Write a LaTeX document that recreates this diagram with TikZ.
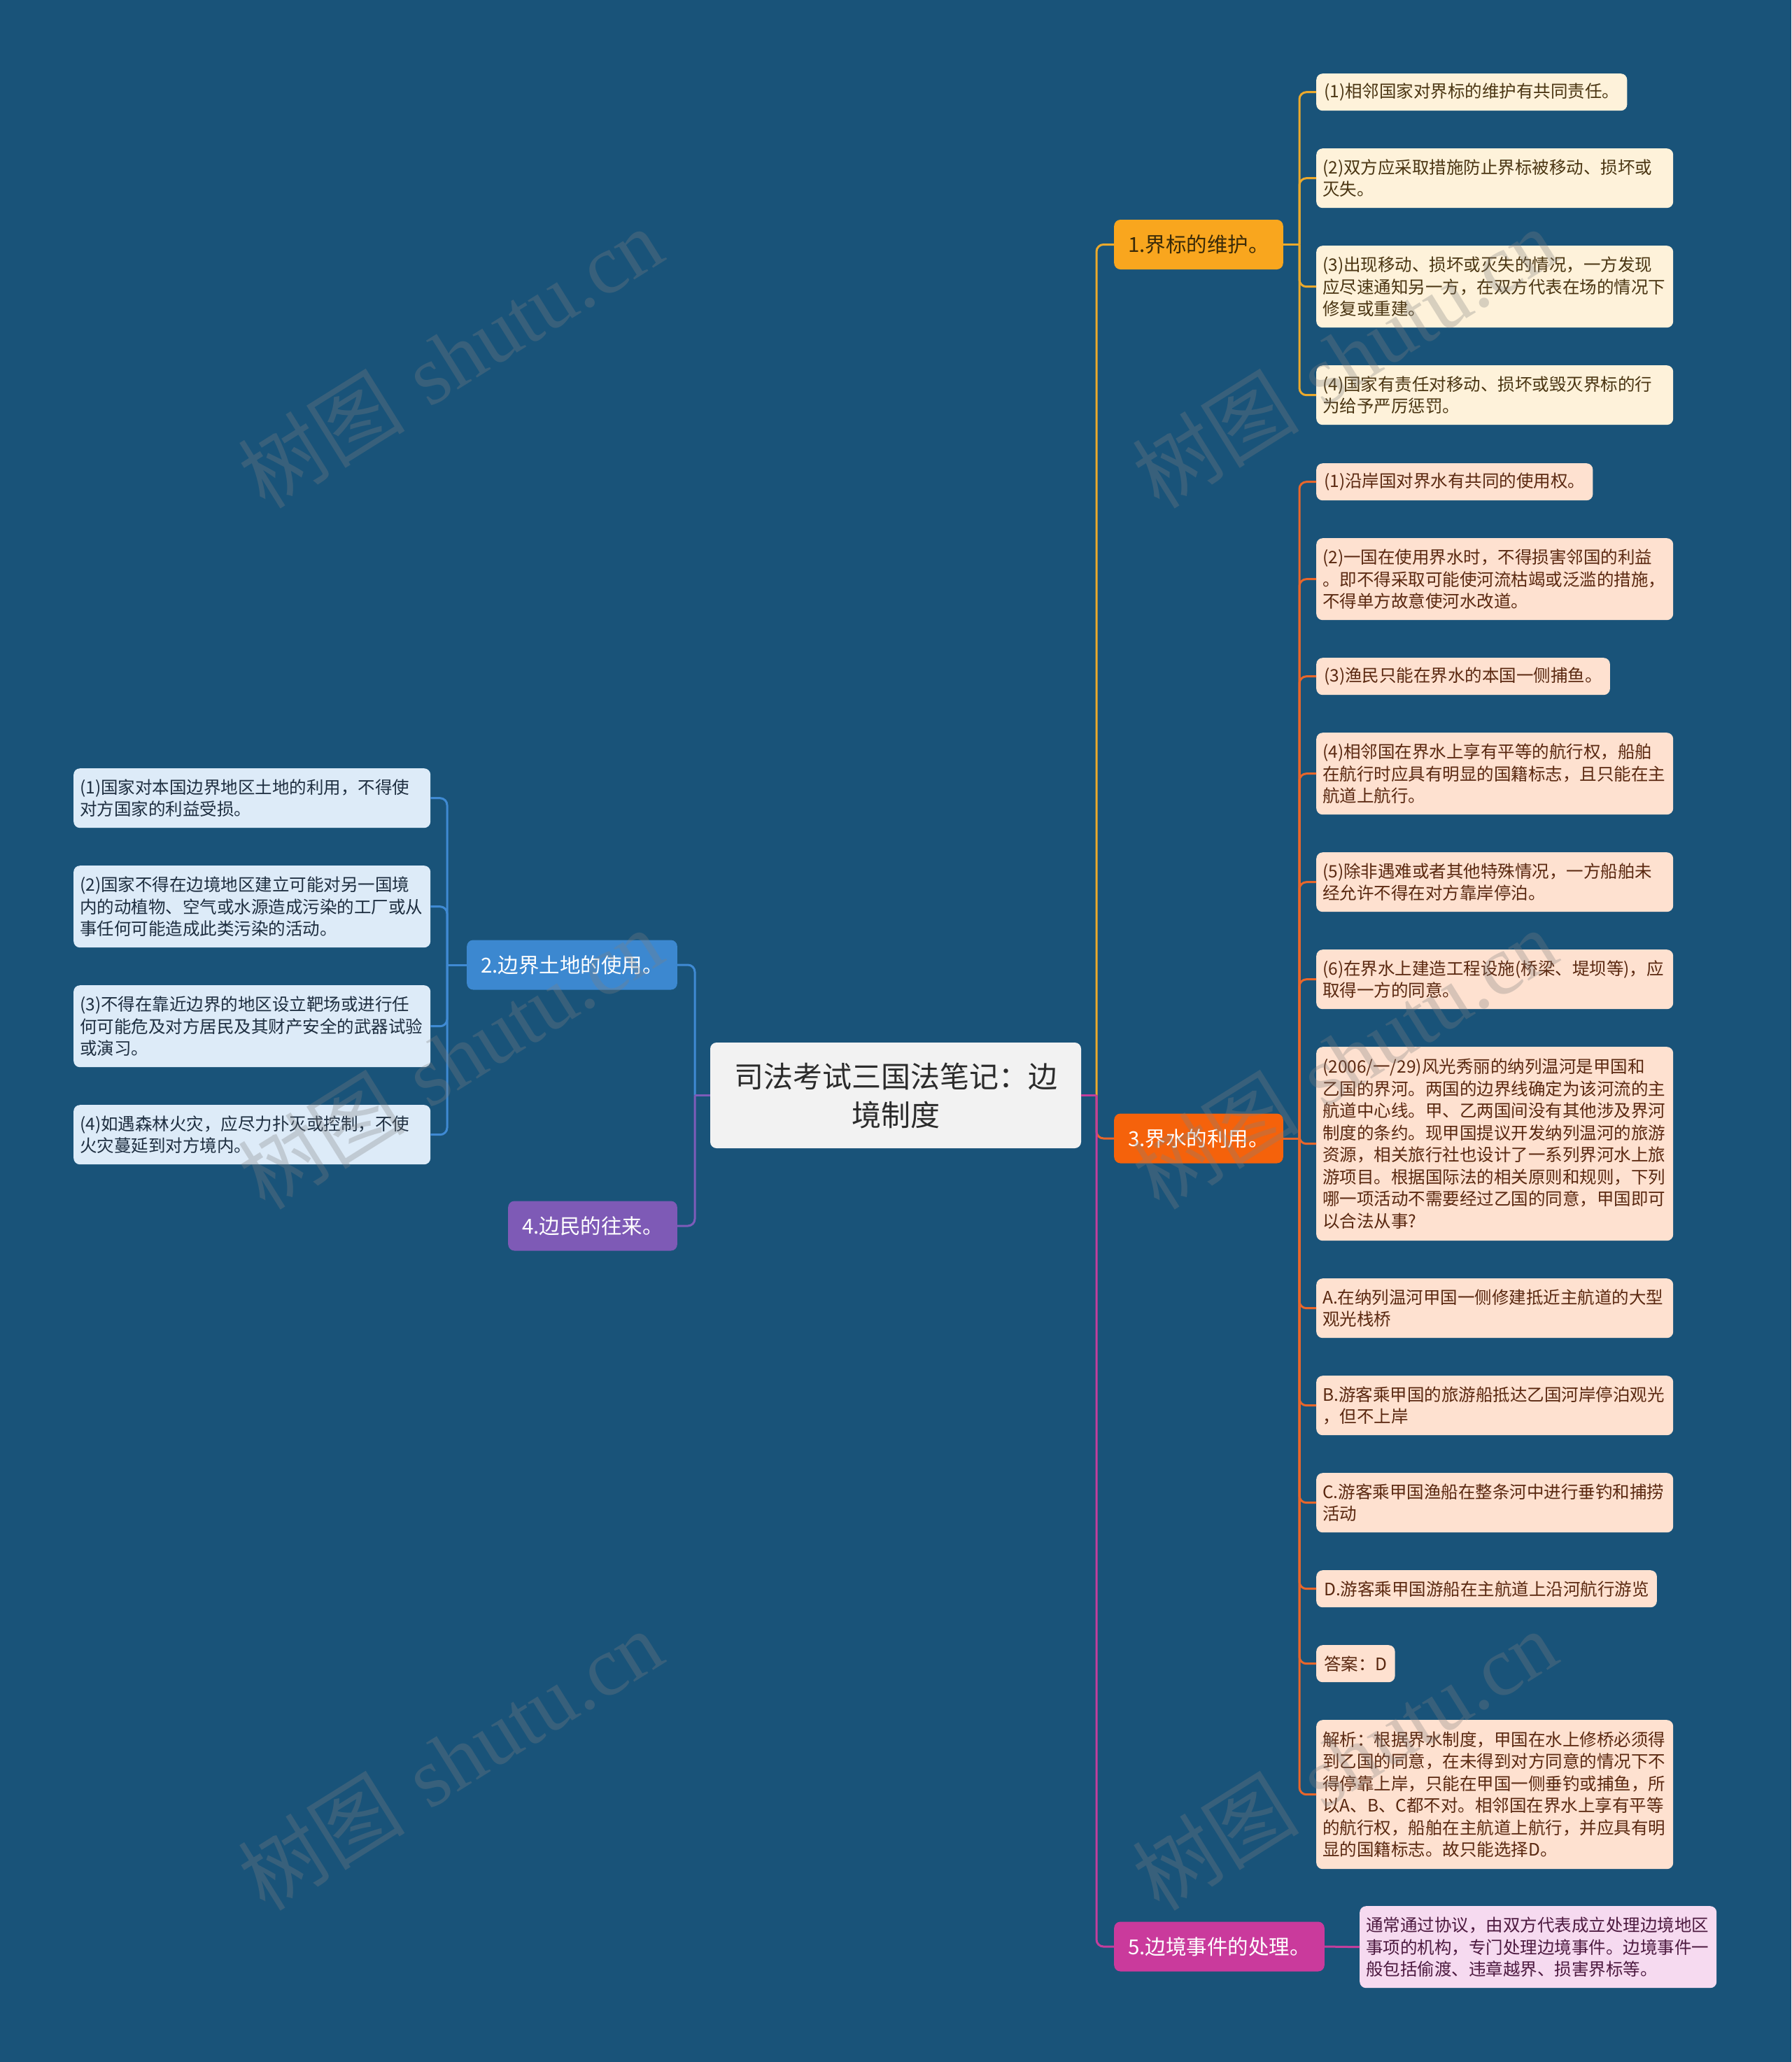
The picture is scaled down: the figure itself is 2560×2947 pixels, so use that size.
\documentclass[tikz,border=0pt]{standalone}
\usepackage{fontspec}
\newfontfamily\cjk{Noto Sans CJK SC}
\newfontfamily\wmlat{Liberation Serif}
\definecolor{bg}{HTML}{195379}
\definecolor{rootF}{HTML}{F2F2F2}
\definecolor{rootT}{HTML}{2B2B2B}
\definecolor{b1F}{HTML}{F9A61E}
\definecolor{b1T}{HTML}{3A2A08}
\definecolor{b3F}{HTML}{F5620B}
\definecolor{b5F}{HTML}{CA3A9C}
\definecolor{b2F}{HTML}{3C88D0}
\definecolor{b4F}{HTML}{7E5AB6}
\definecolor{l1F}{HTML}{FEF2DA}
\definecolor{l1T}{HTML}{4A3512}
\definecolor{l3F}{HTML}{FEE1D0}
\definecolor{l3T}{HTML}{5A2810}
\definecolor{l5F}{HTML}{F6DAF0}
\definecolor{l5T}{HTML}{4D1A40}
\definecolor{l2F}{HTML}{DDEBF8}
\definecolor{l2T}{HTML}{1E2E40}
\definecolor{line1}{HTML}{EBA92C}
\definecolor{line3}{HTML}{E8662A}
\definecolor{line5}{HTML}{C33E9C}
\definecolor{line2}{HTML}{3F8AD3}
\definecolor{line4}{HTML}{7D5CB9}
\tikzset{
  box/.style={rounded corners=9pt, inner ysep=0pt, align=left},
  lf/.style={box, anchor=north west, font=\cjk\fontsize{24.5}{31.5}\selectfont},
  oneline/.style={lf, inner xsep=11pt, minimum height=53pt},
  multi/.style={lf, inner xsep=9pt, text width=492pt},
  yel/.style={fill=l1F, text=l1T},
  pch/.style={fill=l3F, text=l3T},
  pnk/.style={fill=l5F, text=l5T},
  blu/.style={fill=l2F, text=l2T},
  br/.style={box, inner xsep=20pt, minimum height=71pt, text=white, font=\cjk\fontsize{29.5}{35}\selectfont},
  ln/.style={line width=3pt},
  rc/.style={rounded corners=10pt},
  wm/.style={text=gray, opacity=0.3, rotate=32, font=\fontsize{120}{120}\selectfont}
}
\begin{document}
\begin{tikzpicture}[x=1pt,y=-1pt]
\fill[bg] (0,0) rectangle (2560,2947);
\useasboundingbox (0,0) rectangle (2560,2947);

% root
\node[box, align=center, fill=rootF, text=rootT, minimum width=530pt, minimum height=151pt, font=\cjk\fontsize{42}{55}\selectfont] (root) at (1280,1565.5) {司法考试三国法笔记：边\\境制度};

% branches
\node[br, fill=b1F, text=b1T, anchor=west] (b1) at (1592,349.5) {1.界标的维护。};
\node[br, fill=b3F, anchor=west] (b3) at (1592,1627) {3.界水的利用。};
\node[br, fill=b5F, anchor=west] (b5) at (1592,2782) {5.边境事件的处理。};
\node[br, fill=b2F, anchor=east] (b2) at (968,1379) {2.边界土地的使用。};
\node[br, fill=b4F, anchor=east] (b4) at (968,1752) {4.边民的往来。};

% branch 1 leaves
\node[oneline, yel] (l1a) at (1881,105) {(1)相邻国家对界标的维护有共同责任。};
\node[multi, yel, minimum height=85pt] (l1b) at (1881,212) {(2)双方应采取措施防止界标被移动、损坏或\\灭失。};
\node[multi, yel, minimum height=117pt] (l1c) at (1881,351) {(3)出现移动、损坏或灭失的情况，一方发现\\应尽速通知另一方，在双方代表在场的情况下\\修复或重建。};
\node[multi, yel, minimum height=85pt] (l1d) at (1881,522) {(4)国家有责任对移动、损坏或毁灭界标的行\\为给予严厉惩罚。};

% branch 3 leaves
\node[oneline, pch] (l3a) at (1881,662) {(1)沿岸国对界水有共同的使用权。};
\node[multi, pch, minimum height=117pt] (l3b) at (1881,769) {(2)一国在使用界水时，不得损害邻国的利益\\。即不得采取可能使河流枯竭或泛滥的措施，\\不得单方故意使河水改道。};
\node[oneline, pch] (l3c) at (1881,940) {(3)渔民只能在界水的本国一侧捕鱼。};
\node[multi, pch, minimum height=117pt] (l3d) at (1881,1047) {(4)相邻国在界水上享有平等的航行权，船舶\\在航行时应具有明显的国籍标志，且只能在主\\航道上航行。};
\node[multi, pch, minimum height=85pt] (l3e) at (1881,1218) {(5)除非遇难或者其他特殊情况，一方船舶未\\经允许不得在对方靠岸停泊。};
\node[multi, pch, minimum height=85pt] (l3f) at (1881,1357) {(6)在界水上建造工程设施(桥梁、堤坝等)，应\\取得一方的同意。};
\node[multi, pch, minimum height=277pt] (l3g) at (1881,1496) {(2006/一/29)风光秀丽的纳列温河是甲国和\\乙国的界河。两国的边界线确定为该河流的主\\航道中心线。甲、乙两国间没有其他涉及界河\\制度的条约。现甲国提议开发纳列温河的旅游\\资源，相关旅行社也设计了一系列界河水上旅\\游项目。根据国际法的相关原则和规则，下列\\哪一项活动不需要经过乙国的同意，甲国即可\\以合法从事?};
\node[multi, pch, minimum height=85pt] (l3h) at (1881,1827) {A.在纳列温河甲国一侧修建抵近主航道的大型\\观光栈桥};
\node[multi, pch, minimum height=85pt] (l3i) at (1881,1966) {B.游客乘甲国的旅游船抵达乙国河岸停泊观光\\，但不上岸};
\node[multi, pch, minimum height=85pt] (l3j) at (1881,2105) {C.游客乘甲国渔船在整条河中进行垂钓和捕捞\\活动};
\node[oneline, pch] (l3k) at (1881,2244) {D.游客乘甲国游船在主航道上沿河航行游览};
\node[oneline, pch] (l3l) at (1881,2351) {答案：D};
\node[multi, pch, minimum height=213pt] (l3m) at (1881,2458) {解析：根据界水制度，甲国在水上修桥必须得\\到乙国的同意，在未得到对方同意的情况下不\\得停靠上岸，只能在甲国一侧垂钓或捕鱼，所\\以A、B、C都不对。相邻国在界水上享有平等\\的航行权，船舶在主航道上航行，并应具有明\\显的国籍标志。故只能选择D。};

% branch 5 leaf
\node[multi, pnk, minimum height=117pt] (l5a) at (1943,2724) {通常通过协议，由双方代表成立处理边境地区\\事项的机构，专门处理边境事件。边境事件一\\般包括偷渡、违章越界、损害界标等。};

% branch 2 leaves
\node[multi, blu, minimum height=85pt] (l2a) at (105,1098) {(1)国家对本国边界地区土地的利用，不得使\\对方国家的利益受损。};
\node[multi, blu, minimum height=117pt] (l2b) at (105,1237) {(2)国家不得在边境地区建立可能对另一国境\\内的动植物、空气或水源造成污染的工厂或从\\事任何可能造成此类污染的活动。};
\node[multi, blu, minimum height=117pt] (l2c) at (105,1408) {(3)不得在靠近边界的地区设立靶场或进行任\\何可能危及对方居民及其财产安全的武器试验\\或演习。};
\node[multi, blu, minimum height=85pt] (l2d) at (105,1579) {(4)如遇森林火灾，应尽力扑灭或控制，不使\\火灾蔓延到对方境内。};

% junctions
\coordinate (jR) at (1567,1565.5);
\coordinate (jL) at (993,1565.5);
\coordinate (j1) at (1857,349.5);
\coordinate (j3) at (1857,1627);
\coordinate (j2) at (639,1379);

% root connectors
\draw[ln, draw=line1, rc] (jR) |- (b1.west);
\draw[ln, draw=line3, rc] (jR) |- (b3.west);
\draw[ln, draw=line5, rc] (jR) |- (b5.west);
\draw[ln, draw=line5] (root.east) -- (jR);
\draw[ln, draw=line2, rc] (jL) |- (b2.east);
\draw[ln, draw=line4, rc] (jL) |- (b4.east);
\draw[ln, draw=line4] (root.west) -- (jL);

% branch 1 connectors
\draw[ln, draw=line1] (b1.east) -- (j1);
\foreach \n in {l1a,l1b,l1c,l1d} \draw[ln, draw=line1, rc] (j1) |- (\n.west);

% branch 3 connectors
\draw[ln, draw=line3] (b3.east) -- (j3);
\foreach \n in {l3a,l3b,l3c,l3d,l3e,l3f,l3g,l3h,l3i,l3j,l3k,l3l,l3m} \draw[ln, draw=line3, rc] (j3) |- (\n.west);

% branch 5 connector
\draw[ln, draw=line5] (b5.east) -- (l5a.west);

% branch 2 connectors
\draw[ln, draw=line2] (b2.west) -- (j2);
\foreach \n in {l2a,l2b,l2c,l2d} \draw[ln, draw=line2, rc] (j2) |- (\n.east);

% watermarks
\foreach \wx in {643,1921} \foreach \wy in {511,1513,2515}
  \node[wm] (wm\wx\wy) at (\wx,\wy) {{\cjk 树图} {\wmlat shutu.cn}};
\end{tikzpicture}
\end{document}
